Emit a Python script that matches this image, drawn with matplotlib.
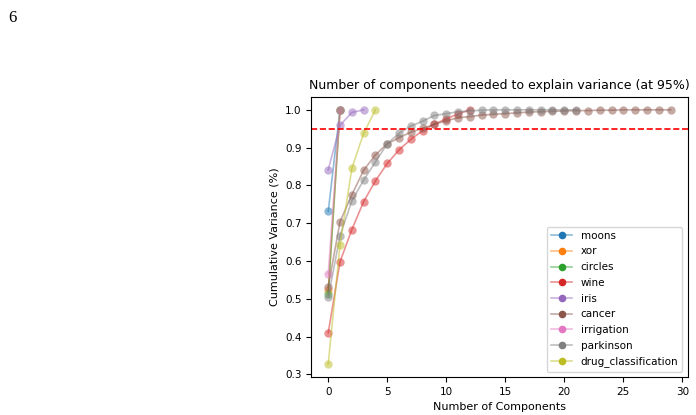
import matplotlib
matplotlib.use('Agg')
import matplotlib.pyplot as plt
from matplotlib.lines import Line2D

# cumulative explained variance per dataset
names = ['moons', 'xor', 'circles', 'wine', 'iris', 'cancer',
         'irrigation', 'parkinson', 'drug_classification']

moons = [0.731, 1.0]
xor = [0.522, 1.0]
circles = [0.512, 1.0]
wine = [0.410, 0.598, 0.683, 0.757, 0.812, 0.858, 0.894, 0.922,
        0.945, 0.962, 0.976, 0.989, 1.0]
iris = [0.841, 0.959, 0.993, 1.0]
cancer = [0.532, 0.704, 0.775, 0.840, 0.881, 0.910, 0.926, 0.941,
          0.951, 0.962, 0.971, 0.979, 0.982, 0.986, 0.988, 0.990,
          0.992, 0.994, 0.995, 0.996, 0.997, 0.998, 0.998, 0.999,
          0.999, 1.0, 1.0, 1.0, 1.0, 1.0]
irrigation = [0.566, 1.0]
parkinson = [0.504, 0.667, 0.759, 0.814, 0.862, 0.910, 0.938, 0.957,
             0.970, 0.985, 0.990, 0.995, 0.997, 0.999, 1.0, 1.0,
             1.0, 1.0, 1.0, 1.0, 1.0, 1.0]
drug_classification = [0.327, 0.643, 0.845, 0.938, 1.0]

series = [moons, xor, circles, wine, iris, cancer,
          irrigation, parkinson, drug_classification]
threshold = 0.95

colors = plt.rcParams['axes.prop_cycle'].by_key()['color']

fig = plt.figure(figsize=(6.96, 4.15), dpi=100)
ax = fig.add_axes([0.447, 0.092, 0.541, 0.674])

handles = []
for i, (name, vals) in enumerate(zip(names, series)):
    c = colors[i]
    ax.plot(range(len(vals)), vals, marker='o', color=c, alpha=0.5,
            markersize=6, markeredgewidth=0, linewidth=1.2)
    handles.append(Line2D([], [], color=matplotlib.colors.to_rgba(c, 0.5),
                          marker='o', markerfacecolor=c, markeredgecolor=c,
                          markersize=5.5, markeredgewidth=0, linewidth=1.2,
                          label=name))

ax.axhline(threshold, color='r', linestyle='--', linewidth=1.2)

ax.set_title('Number of components needed to explain variance (at 95%)',
             fontsize=9)
ax.set_xlabel('Number of Components', fontsize=8)
ax.set_ylabel('Cumulative Variance (%)', fontsize=8)
ax.set_xticks(range(0, 31, 5))
ax.set_yticks([0.3, 0.4, 0.5, 0.6, 0.7, 0.8, 0.9, 1.0])
ax.tick_params(labelsize=7.5)
ax.legend(handles=handles, loc='lower right', fontsize=7.5, labelspacing=0.55)

fig.text(0.012, 0.975, '6', family='Liberation Serif', fontsize=12,
         va='top', ha='left')

plt.savefig('out.png', dpi=100)
